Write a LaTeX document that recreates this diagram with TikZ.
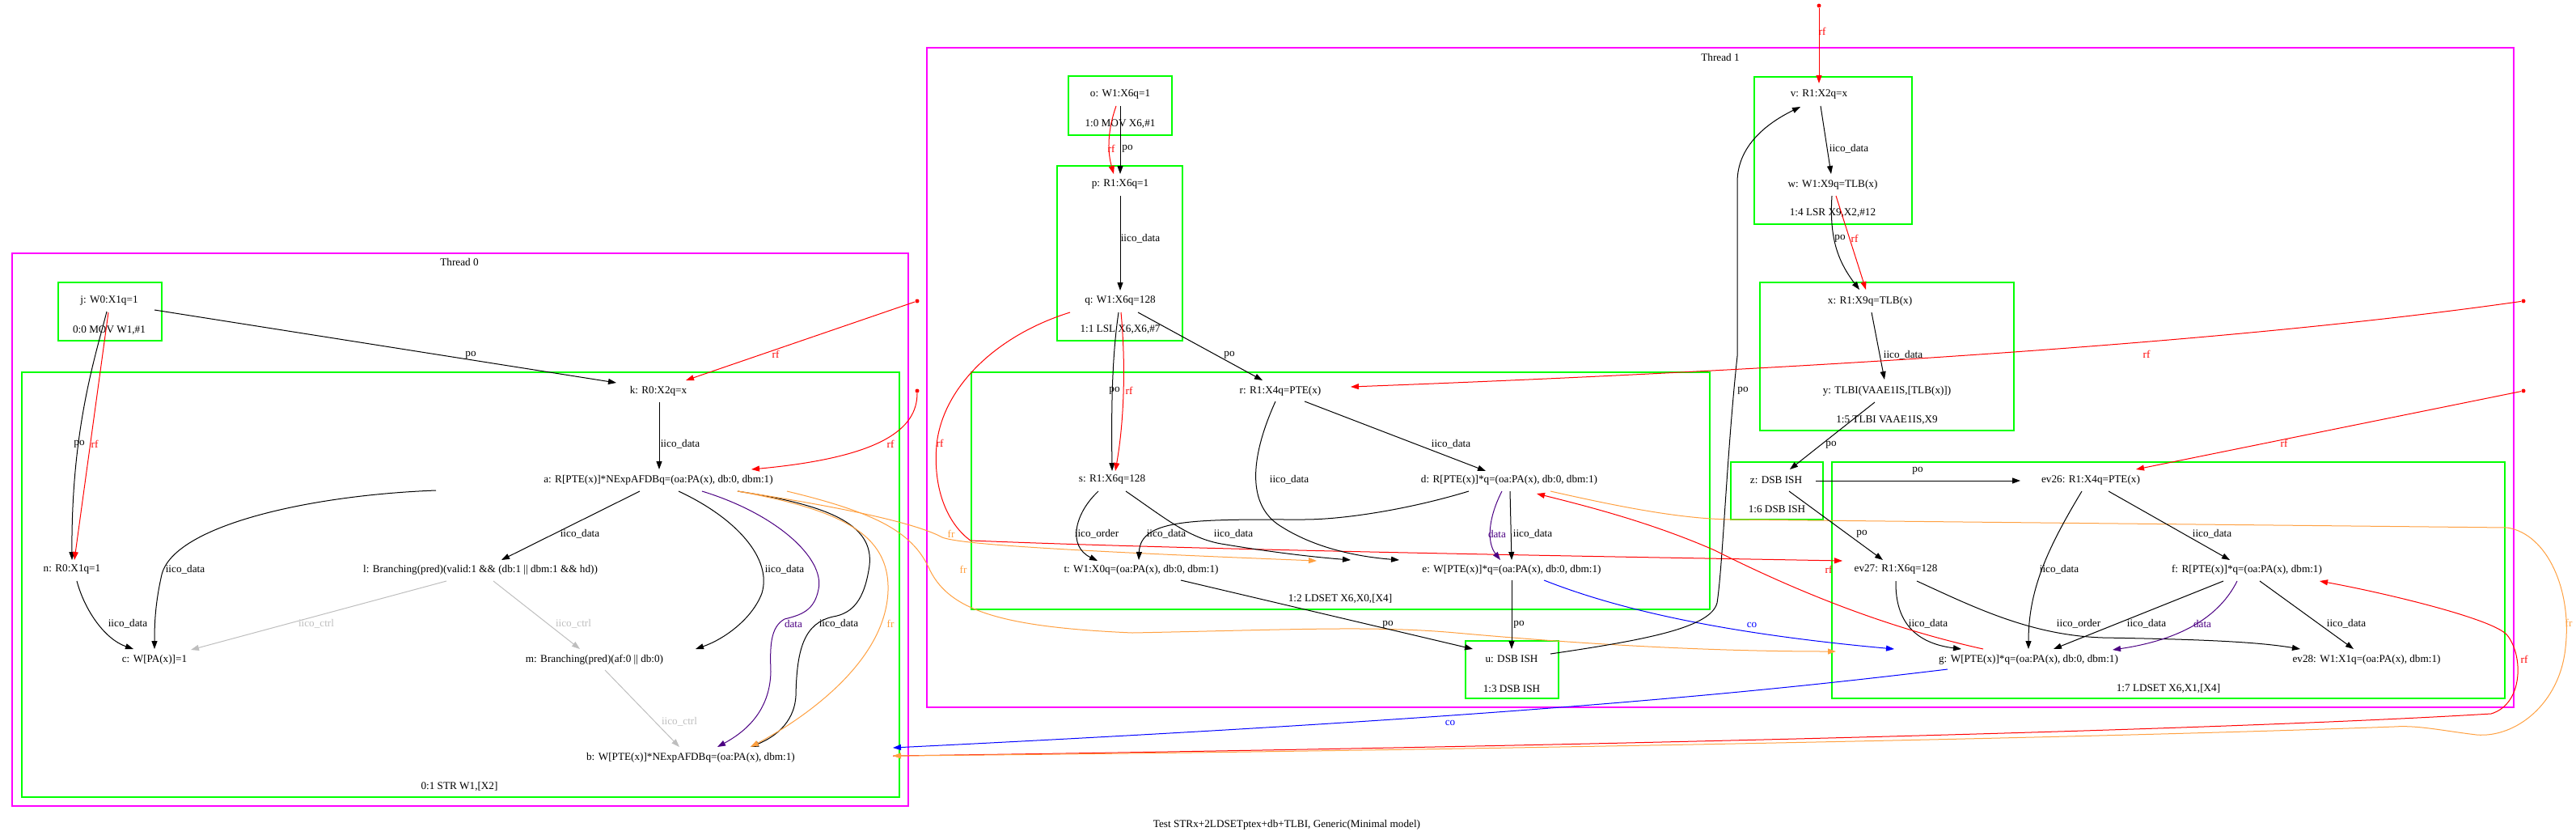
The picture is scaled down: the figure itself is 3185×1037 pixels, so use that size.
\documentclass[tikz,border=0pt]{standalone}
\usepackage{fontspec}
\setmainfont{Liberation Serif}
\usetikzlibrary{arrows.meta,calc}

\definecolor{thrc}{RGB}{255,0,255}
\definecolor{grpc}{RGB}{0,255,0}
\definecolor{frc}{RGB}{255,160,64}
\definecolor{datac}{RGB}{75,0,130}
\definecolor{ctrlc}{RGB}{190,190,190}

\begin{document}
\begin{tikzpicture}[x=1pt, y=-1pt, >={Triangle[length=10pt,width=7pt]}, line width=1pt,
    every node/.style={font=\fontsize{13.2}{15}\selectfont, inner sep=1pt},
    thread/.style={draw=thrc, line width=1.2pt},
    grpbox/.style={draw=grpc, line width=1.2pt},
    po edge/.style={->, black},
    iico edge/.style={->, black},
    rf edge/.style={->, red},
    fr edge/.style={->, frc},
    co edge/.style={->, blue},
    data edge/.style={->, datac},
    ctrl edge/.style={->, ctrlc},
    rfsrc/.style={circle, fill=red, inner sep=0pt, minimum size=5pt}]

\useasboundingbox (0,0) rectangle (3185,1037);

\draw[thread] (15,313) rectangle (1123,996);
\node (th0) at (568,324) {Thread 0};
\draw[grpbox] (72,349) rectangle (200,421);
\node (i00) at (135,408) {0:0 MOV W1,\#1};
\draw[grpbox] (27,460) rectangle (1112,985);
\node (i01) at (568,972) {0:1 STR W1,[X2]};

\draw[thread] (1146,59) rectangle (3108,874);
\node (th1) at (2127,71) {Thread 1};
\draw[grpbox] (1321,94) rectangle (1449,167);
\node (i10) at (1385,153) {1:0 MOV X6,\#1};
\draw[grpbox] (1307,205) rectangle (1462,421);
\node (i11) at (1385,407) {1:1 LSL X6,X6,\#7};
\draw[grpbox] (1201,460) rectangle (2114,753);
\node (i12) at (1657,740) {1:2 LDSET X6,X0,[X4]};
\draw[grpbox] (1812,792) rectangle (1927,863);
\node (i13) at (1869,851) {1:3 DSB ISH};
\draw[grpbox] (2169,95) rectangle (2364,277);
\node (i14) at (2266,263) {1:4 LSR X9,X2,\#12};
\draw[grpbox] (2176,349) rectangle (2490,532);
\node (i15) at (2333,519) {1:5 TLBI VAAE1IS,X9};
\draw[grpbox] (2140,571) rectangle (2254,642);
\node (i16) at (2197,629) {1:6 DSB ISH};
\draw[grpbox] (2265,571) rectangle (3097,863);
\node (i17) at (2681,851) {1:7 LDSET X6,X1,[X4]};

\node (j) at (135,372) {j: W0:X1q=1};
\node (k) at (814,483) {k: R0:X2q=x};
\node (a) at (814,593) {a: R[PTE(x)]*NExpAFDBq=(oa:PA(x), db:0, dbm:1)};
\node (n) at (89,704) {n: R0:X1q=1};
\node (l) at (594,704) {l: Branching(pred)(valid:1 \&\& (db:1 || dbm:1 \&\& hd))};
\node (c) at (191,815) {c: W[PA(x)]=1};
\node (m) at (735,815) {m: Branching(pred)(af:0 || db:0)};
\node (b) at (854,936) {b: W[PTE(x)]*NExpAFDBq=(oa:PA(x), dbm:1)};

\node (o) at (1385,117) {o: W1:X6q=1};
\node (p) at (1385,228) {p: R1:X6q=1};
\node (q) at (1385,372) {q: W1:X6q=128};
\node (r) at (1583,483) {r: R1:X4q=PTE(x)};
\node (s) at (1375,593) {s: R1:X6q=128};
\node (d) at (1866,593) {d: R[PTE(x)]*q=(oa:PA(x), db:0, dbm:1)};
\node (t) at (1411,704) {t: W1:X0q=(oa:PA(x), db:0, dbm:1)};
\node (e) at (1869,704) {e: W[PTE(x)]*q=(oa:PA(x), db:0, dbm:1)};
\node (u) at (1869,814) {u: DSB ISH};
\node (v) at (2249,117) {v: R1:X2q=x};
\node (w) at (2266,228) {w: W1:X9q=TLB(x)};
\node (x) at (2312,372) {x: R1:X9q=TLB(x)};
\node (y) at (2333,483) {y: TLBI(VAAE1IS,[TLB(x)])};
\node (z) at (2196,593) {z: DSB ISH};
\node (ev26) at (2585,593) {ev26: R1:X4q=PTE(x)};
\node (ev27) at (2344,704) {ev27: R1:X6q=128};
\node (f) at (2778,704) {f: R[PTE(x)]*q=(oa:PA(x), dbm:1)};
\node (g) at (2508,815) {g: W[PTE(x)]*q=(oa:PA(x), db:0, dbm:1)};
\node (ev28) at (2926,815) {ev28: W1:X1q=(oa:PA(x), dbm:1)};

\node (title) at (1591,1019) {Test STRx+2LDSETptex+db+TLBI, Generic(Minimal model)};

\node[rfsrc] (ik) at (1134,372) {};
\node[rfsrc] (ia) at (1134,483) {};
\node[rfsrc] (iv) at (2249,7) {};
\node[rfsrc] (ir) at (3120,372) {};
\node[rfsrc] (iev26) at (3120,483) {};

\draw[po edge] ($(j)+(56,11)$) -- ($(k)+(-52,-10)$) node at (582,439) {po};
\draw[po edge] ($(j)+(-3,13)$) .. controls (118,440) and (88,530) .. ($(n)+(0,-12)$) node at (98,549) {po};
\draw[rf edge] ($(j)+(-1,14)$) -- ($(n)+(3,-12)$) node at (117,549) {rf};
\draw[iico edge] ($(k)+(1,14)$) -- ($(a)+(1,-13)$) node at (841,549) {iico\_data};
\draw[iico edge] ($(a)+(-23,14)$) -- ($(l)+(26,-12)$) node at (717,660) {iico\_data};
\draw[iico edge] ($(a)+(-275,13)$) .. controls (380,612) and (215,650) .. (200,710) .. controls (192,745) and (191,770) .. ($(c)+(0,-13)$) node at (229,704) {iico\_data};
\draw[iico edge] ($(n)+(6,14)$) .. controls (105,755) and (130,790) .. ($(c)+(-26,-13)$) node at (158,771) {iico\_data};
\draw[ctrl edge] ($(l)+(-42,14)$) -- ($(c)+(45,-12)$) node at (391,771) {iico\_ctrl};
\draw[ctrl edge] ($(l)+(16,14)$) -- ($(m)+(-18,-13)$) node at (709,771) {iico\_ctrl};
\draw[iico edge] ($(a)+(25,14)$) .. controls (910,640) and (955,690) .. (942,733) .. controls (930,765) and (895,790) .. ($(m)+(125,-13)$) node at (970,704) {iico\_data};
\draw[ctrl edge] ($(m)+(13,13)$) -- ($(b)+(-14,-13)$) node at (840,892) {iico\_ctrl};
\draw[data edge] ($(a)+(54,14)$) .. controls (960,635) and (1020,690) .. (1012,728) .. controls (1007,755) and (990,760) .. (970,765) .. controls (952,775) and (952,800) .. (953,830) .. controls (952,880) and (920,905) .. ($(b)+(33,-13)$) node at (981,771) {data};
\draw[iico edge] ($(a)+(98,14)$) .. controls (1030,625) and (1085,650) .. (1074,705) .. controls (1068,740) and (1055,758) .. (1030,762) .. controls (995,770) and (985,800) .. (984,860) .. controls (982,895) and (955,912) .. ($(b)+(74,-13)$) node at (1037,771) {iico\_data};
\draw[fr edge] ($(a)+(98,14)$) .. controls (1040,630) and (1100,660) .. (1098,730) .. controls (1095,820) and (990,890) .. ($(b)+(74,-13)$) node at (1101,771) {fr};
\draw[fr edge] ($(a)+(98,14)$) .. controls (1030,625) and (1130,645) .. (1165,664) .. controls (1185,672) and (1300,680) .. ($(e)+(-241,-11)$) node at (1176,660) {fr};
\draw[fr edge] ($(a)+(159,14)$) .. controls (1090,635) and (1130,660) .. (1150,705) .. controls (1175,755) and (1240,775) .. (1400,782) .. controls (1600,778) and (1700,773) .. (1800,782) .. controls (2000,800) and (2150,805) .. ($(g)+(-238,-10)$) node at (1191,704) {fr};
\draw[rf edge] ($(b)+(250,-2)$) .. controls (1800,925) and (2700,905) .. (3080,882) .. controls (3120,870) and (3120,810) .. (3100,785) .. controls (3084,765) and (2950,733) .. ($(f)+(90,14)$) node at (3121,815) {rf};
\draw[fr edge] ($(d)+(51,14)$) .. controls (2010,628) and (2080,641) .. (2140,642) -- (3100,652) .. controls (3150,660) and (3180,730) .. (3172,800) .. controls (3165,870) and (3110,912) .. (3062,908) .. controls (3020,903) and (2990,896) .. (2960,898) .. controls (2500,915) and (1600,930) .. ($(b)+(250,-2)$) node at (3176,770) {fr};
\draw[co edge] ($(g)+(-100,12)$) .. controls (2200,852) and (1900,885) .. ($(b)+(250,-12)$) node at (1793,893) {co};
\draw[co edge] ($(e)+(40,13)$) .. controls (1980,745) and (2100,780) .. ($(g)+(-166,-13)$) node at (2166,772) {co};

\draw[po edge] ($(o)+(0,14)$) -- ($(p)+(0,-13)$) node at (1394,184) {po};
\draw[rf edge] ($(o)+(-5,14)$) .. controls (1368,165) and (1370,190) .. ($(p)+(-8,-13)$) node at (1374,184) {rf};
\draw[iico edge] ($(p)+(0,14)$) -- ($(q)+(0,-13)$) node at (1410,295) {iico\_data};
\draw[po edge] ($(q)+(-2,14)$) .. controls (1375,440) and (1374,500) .. ($(s)+(0,-11)$) node at (1378,483) {po};
\draw[rf edge] ($(q)+(1,14)$) .. controls (1392,450) and (1390,520) .. ($(s)+(4,-11)$) node at (1396,483) {rf};
\draw[po edge] ($(q)+(22,14)$) -- ($(r)+(-22,-13)$) node at (1520,439) {po};
\draw[rf edge] ($(q)+(-62,14)$) .. controls (1230,415) and (1165,480) .. (1158,550) .. controls (1153,610) and (1175,650) .. (1200,668) .. controls (1500,680) and (2000,688) .. ($(ev27)+(-66,-11)$) node at (1162,548) {rf};
\draw[iico edge] ($(r)+(30,13)$) -- ($(d)+(-29,-11)$) node at (1794,549) {iico\_data};
\draw[iico edge] ($(r)+(-6,13)$) .. controls (1548,560) and (1540,620) .. (1580,648) .. controls (1625,678) and (1680,688) .. ($(e)+(-139,-12)$) node at (1594,593) {iico\_data};
\draw[iico edge] ($(s)+(-17,14)$) .. controls (1328,635) and (1320,675) .. ($(t)+(-54,-11)$) node at (1356,660) {iico\_order};
\draw[iico edge] ($(s)+(17,14)$) .. controls (1440,640) and (1470,665) .. (1510,672) .. controls (1570,682) and (1620,688) .. ($(e)+(-199,-12)$) node at (1525,660) {iico\_data};
\draw[iico edge] ($(d)+(-50,14)$) .. controls (1740,630) and (1660,642) .. (1612,642) .. controls (1480,642) and (1410,640) .. ($(t)+(-3,-12)$) node at (1442,660) {iico\_data};
\draw[data edge] ($(d)+(-9,14)$) .. controls (1840,640) and (1838,670) .. ($(e)+(-14,-12)$) node at (1851,660) {data};
\draw[iico edge] ($(d)+(1,14)$) -- ($(e)+(0,-12)$) node at (1895,660) {iico\_data};
\draw[po edge] ($(t)+(49,13)$) -- ($(u)+(-48,-12)$) node at (1716,772) {po};
\draw[po edge] ($(e)+(0,13)$) -- ($(u)+(0,-12)$) node at (1878,772) {po};
\draw[po edge] ($(u)+(48,-6)$) .. controls (2040,790) and (2115,775) .. (2123,745) .. controls (2130,700) and (2135,560) .. (2148,440) -- (2148,225) .. controls (2148,180) and (2185,152) .. ($(v)+(-23,15)$) node at (2155,483) {po};
\draw[iico edge] ($(v)+(2,14)$) -- ($(w)+(-2,-13)$) node at (2286,184) {iico\_data};
\draw[po edge] ($(w)+(-1,14)$) .. controls (2262,290) and (2270,320) .. ($(x)+(-13,-14)$) node at (2275,295) {po};
\draw[rf edge] ($(w)+(4,14)$) -- ($(x)+(-5,-14)$) node at (2293,295) {rf};
\draw[iico edge] ($(x)+(2,14)$) -- ($(y)+(-3,-14)$) node at (2353,439) {iico\_data};
\draw[po edge] ($(y)+(-15,14)$) -- ($(z)+(17,-13)$) node at (2264,550) {po};
\draw[po edge] ($(z)+(49,1)$) -- ($(ev26)+(-87,1)$) node at (2371,582) {po};
\draw[po edge] ($(z)+(16,14)$) -- ($(ev27)+(-16,-12)$) node at (2302,660) {po};
\draw[iico edge] ($(ev26)+(22,14)$) -- ($(f)+(-21,-12)$) node at (2735,660) {iico\_data};
\draw[iico edge] ($(ev26)+(-11,14)$) .. controls (2530,680) and (2508,730) .. ($(g)+(0,-13)$) node at (2546,704) {iico\_data};
\draw[iico edge] ($(ev27)+(0,14)$) .. controls (2343,770) and (2370,795) .. ($(g)+(-83,-13)$) node at (2384,771) {iico\_data};
\draw[iico edge] ($(ev27)+(26,14)$) .. controls (2440,750) and (2510,785) .. (2600,788) .. controls (2720,790) and (2790,793) .. ($(ev28)+(-82,-13)$) node at (2570,771) {iico\_order};
\draw[iico edge] ($(f)+(-29,14)$) -- ($(g)+(31,-13)$) node at (2654,771) {iico\_data};
\draw[data edge] ($(f)+(-12,14)$) .. controls (2745,760) and (2700,790) .. ($(g)+(104,-12)$) node at (2723,771) {data};
\draw[iico edge] ($(f)+(16,14)$) -- ($(ev28)+(-16,-13)$) node at (2901,771) {iico\_data};
\draw[rf edge] ($(g)+(-56,-13)$) .. controls (2330,775) and (2220,730) .. (2120,680) .. controls (2040,645) and (1960,625) .. ($(d)+(34,17)$) node at (2261,704) {rf};

\draw[rf edge] (ik) -- ($(k)+(34,-13)$) node at (959,438) {rf};
\draw[rf edge] (ia) .. controls (1134,530) and (1090,565) .. ($(a)+(115,-13)$) node at (1101,549) {rf};
\draw[rf edge] (iv) -- ($(v)+(0,-14)$) node at (2253,39) {rf};
\draw[rf edge] (ir) .. controls (2750,425) and (2200,458) .. ($(r)+(87,-5)$) node at (2654,438) {rf};
\draw[rf edge] (iev26) -- ($(ev26)+(56,-13)$) node at (2824,548) {rf};
\end{tikzpicture}
\end{document}
